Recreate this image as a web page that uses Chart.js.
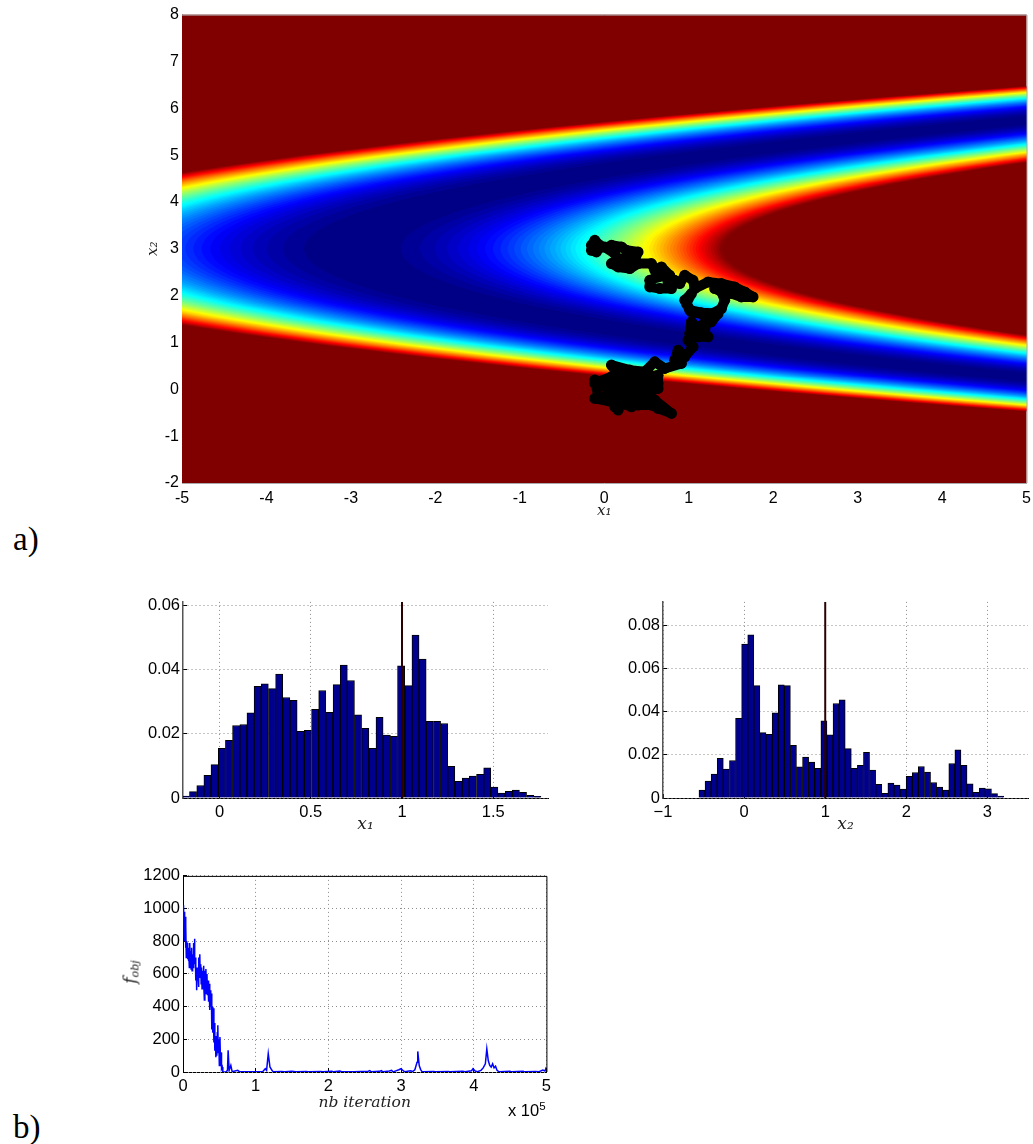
<!DOCTYPE html>
<html><head><meta charset="utf-8">
<script src="https://cdn.jsdelivr.net/npm/chart.js@4"></script>
<style>
html,body{margin:0;padding:0;background:#fff;width:1033px;height:1144px;overflow:hidden}
canvas{position:absolute;display:block}
.t{position:absolute;white-space:nowrap;color:#000}
.panel{font-family:"Liberation Serif",serif;font-size:33px;line-height:32px}
.mult{font-family:"Liberation Sans",sans-serif;font-size:16.5px;line-height:16px}
.mult sup{font-size:11.5px;line-height:0;vertical-align:6px}
.fobj{font-family:"DejaVu Serif",serif;font-style:italic;font-size:17px;line-height:17px;transform:translate(-50%,-50%) rotate(-90deg);color:#222}
.fobj sub{font-size:11px;line-height:0;vertical-align:-3px}
</style></head><body>
<canvas id="heat" width="897" height="522" style="left:140px;top:2px"></canvas>
<canvas id="h1" width="420" height="251" style="left:140px;top:585px"></canvas>
<canvas id="h2" width="413" height="251" style="left:620px;top:585px"></canvas>
<canvas id="obj" width="440" height="253" style="left:120px;top:859px"></canvas>
<div class="t panel" style="left:13px;top:523px">a)</div>
<div class="t panel" style="left:13px;top:1111px">b)</div>
<div class="t mult" style="left:508px;top:1102px">x 10<sup>5</sup></div>
<div class="t fobj" style="left:130px;top:972px">f<sub>obj</sub></div>
<script>
// ---- panel a: valley of the objective, read row by row
const rowX2 = [-1.5,-1.25,-1,-0.75,-0.5,-0.25,0,0.25,0.5,0.75,1,1.25,1.5,1.75,2,2.25,2.5,2.75,3,3.25,3.5,3.75,4,4.25,4.5,4.75,5,5.25,5.5,5.75,6,6.25,6.5,6.75,7,7.25,7.5];
const valleyX1 = [18.515,16.196,14.01,11.956,10.035,8.246,6.59,5.066,3.675,2.416,1.29,0.296,-0.565,-1.294,-1.89,-2.354,-2.685,-2.884,-2.95,-2.884,-2.685,-2.354,-1.89,-1.294,-0.565,0.296,1.29,2.416,3.675,5.066,6.59,8.246,10.035,11.956,14.01,16.196,18.515];
const levelRoots = [0.125,0.1768,0.2165,0.25,0.2795,0.3062,0.3307,0.3536,0.375,0.3953,0.4146,0.433,0.4507,0.4677,0.4841,0.5,0.5154,0.5303,0.5449,0.559,0.5728,0.5863,0.5995,0.6124,0.625,0.6374,0.6495,0.6614,0.6731,0.6847,0.696,0.7071,0.7181,0.7289,0.7395,0.75,0.7603,0.7706,0.7806,0.7906,0.8004,0.8101,0.8197,0.829,0.8385,0.8478,0.857,0.866,0.875,0.8839,0.8927,0.9014,0.91,0.9186,0.927,0.9354,0.9437,0.952,0.9601,0.9682,0.9763,0.9843,0.9922,1];
const outerReach = 4.85;
const innerReach = 4.35;
const pathX1 = [-0.152,-0.112,-0.053,-0.093,-0.152,0.006,0.124,0.085,0.203,0.262,0.4,0.341,0.243,0.302,0.164,0.085,0.164,0.302,0.4,0.558,0.598,0.677,0.775,0.637,0.539,0.539,0.657,0.795,0.755,0.834,0.894,0.953,1.051,1.071,1.229,1.387,1.544,1.663,1.761,1.623,1.505,1.308,1.387,1.426,1.387,1.229,1.032,0.953,1.032,0.973,1.012,1.15,1.347,1.268,1.229,1.111,1.032,1.012,1.189,1.209,1.15,1.229,1.111,1.071,0.992,1.051,0.953,0.874,0.834,0.913,0.716,0.598,0.479,0.302,0.085,0.164,0.045,-0.112,0.085,0.282,0.479,0.637,0.637,0.44,0.243,0.045,-0.112,-0.073,-0.112,0.085,0.124,0.124,0.164,0.183,0.322,0.282,0.479,0.4,0.558,0.637,0.795,0.598,0.44,0.637,0.44,0.243,0.045,0.322,0.519,0.36,0.2,0.05,0.2,0.36];
const pathX2 = [3.075,3.181,3.075,2.932,2.968,3.039,2.897,3.075,3.039,2.968,2.932,2.684,2.684,2.826,2.79,2.684,2.613,2.577,2.684,2.684,2.541,2.613,2.435,2.399,2.328,2.186,2.151,2.151,2.293,2.328,2.257,2.435,2.328,2.151,2.293,2.257,2.186,2.08,1.973,1.973,2.044,2.151,2.08,1.902,1.724,1.574,1.653,1.902,2.044,1.831,1.689,1.635,1.618,1.44,1.511,1.298,1.44,1.191,1.227,1.405,1.227,1.121,1.121,1.192,1.05,0.907,0.694,0.836,0.623,0.552,0.445,0.588,0.374,0.41,0.517,0.303,0.161,0.126,0.268,0.232,0.268,0.303,0.019,-0.052,0.033,0.019,0.197,-0.123,-0.194,-0.265,-0.123,-0.372,-0.443,-0.294,-0.372,-0.23,-0.23,-0.336,-0.336,-0.407,-0.514,-0.23,0.055,0.126,0.268,0.055,-0.088,-0.159,-0.088,0.12,0.12,-0.2,-0.25,-0.02];
const heatXTicks = [-5,-4,-3,-2,-1,0,1,2,3,4,5];
const heatXLabels = ['-5','-4','-3','-2','-1','0','1','2','3','4','5'];
const heatYTicks = [-2,-1,0,1,2,3,4,5,6,7,8];
const heatYLabels = ['-2','-1','0','1','2','3','4','5','6','7','8'];

// ---- panel b: histogram of x1
const h1Centers = [-0.184,-0.145,-0.105,-0.066,-0.027,0.013,0.052,0.091,0.131,0.17,0.209,0.248,0.288,0.327,0.366,0.406,0.445,0.484,0.524,0.563,0.602,0.642,0.681,0.72,0.759,0.799,0.838,0.877,0.917,0.956,0.995,1.035,1.074,1.113,1.152,1.192,1.231,1.27,1.31,1.349,1.388,1.428,1.467,1.506,1.545,1.585,1.624,1.663,1.703,1.742];
const h1Values = [0.0006,0.002,0.0039,0.0071,0.0104,0.0155,0.018,0.0226,0.0229,0.0265,0.0348,0.0356,0.0341,0.0386,0.0313,0.0304,0.0208,0.0211,0.0276,0.0335,0.0267,0.0353,0.0414,0.0366,0.0259,0.0217,0.0155,0.0251,0.0196,0.0192,0.0412,0.035,0.0508,0.0433,0.0239,0.0239,0.0232,0.0099,0.0052,0.0062,0.0068,0.0074,0.0094,0.0034,0.0015,0.0021,0.0025,0.0018,0.0008,0.0005];
const h1XTicks = [0,0.5,1,1.5];
const h1XLabels = ['0','0.5','1','1.5'];
const h1YTicks = [0,0.02,0.04,0.06];
const h1YLabels = ['0','0.02','0.04','0.06'];

// ---- panel b: histogram of x2
const h2Centers = [-0.519,-0.444,-0.369,-0.294,-0.219,-0.143,-0.068,0.007,0.082,0.157,0.232,0.307,0.383,0.458,0.533,0.608,0.683,0.758,0.833,0.908,0.984,1.059,1.134,1.209,1.284,1.359,1.434,1.509,1.584,1.66,1.735,1.81,1.885,1.96,2.035,2.11,2.185,2.261,2.336,2.411,2.486,2.561,2.636,2.711,2.786,2.862,2.937,3.012,3.087,3.163];
const h2Values = [0.0037,0.0078,0.0111,0.0184,0.0134,0.0174,0.0369,0.0713,0.0756,0.0521,0.0303,0.0295,0.0395,0.0525,0.0521,0.0244,0.0144,0.019,0.0166,0.0138,0.0358,0.0293,0.0438,0.0455,0.0229,0.0137,0.0152,0.0212,0.0129,0.0063,0.0022,0.0069,0.006,0.0041,0.0101,0.0118,0.0146,0.012,0.0072,0.0051,0.0037,0.016,0.0223,0.0152,0.0066,0.0026,0.0046,0.0043,0.002,0.0009];
const h2XTicks = [-1,0,1,2,3];
const h2XLabels = ['\u22121','0','1','2','3'];
const h2YTicks = [0,0.02,0.04,0.06,0.08];
const h2YLabels = ['0','0.02','0.04','0.06','0.08'];

// ---- panel b: objective against iteration
const objIter = [0,500,1000,1500,2000,2500,3000,3500,4000,4500,5000,5500,6000,6500,7000,7500,8000,8700,9300,10000,10600,11200,11900,12500,13200,13800,14600,15200,15700,16400,17000,17600,18300,18800,19500,20100,20700,21300,21900,22500,23100,23700,24400,25000,25600,26200,27000,27600,28200,28800,29400,30100,30700,31500,32200,33000,33600,34400,35200,36000,36800,37500,38200,39000,39600,40300,41000,41800,42500,43200,43800,44500,45200,45900,46500,47200,47900,48500,49200,50000,50800,51600,52300,53000,54000,54800,59400,61200,62100,63500,65800,67600,75300,77600,109600,113200,115000,117300,119600,122400,124000,135000,140000,150000,155000,170000,172000,190000,192000,205000,207000,216000,219000,235000,255000,257000,259000,270000,273000,275000,284000,287000,289000,297000,300000,303000,305000,313000,316000,319000,322000,323000,325000,327000,329000,345000,347000,365000,367000,385000,388000,397000,399000,402000,405000,410000,413000,416000,418000,420000,422000,424000,426000,428000,430000,432000,435000,450000,452000,468000,470000,485000,490000,495000,498000,500000];
const objValue = [1020,900,1010,830,980,800,950,760,900,700,800,720,790,690,760,680,750,640,790,660,740,630,760,620,720,640,790,700,816,660,700,560,640,500,640,560,620,520,700,600,720,580,660,540,640,510,620,520,650,540,440,620,500,630,480,600,470,560,430,540,380,500,400,480,260,400,240,390,180,300,130,220,90,200,100,240,286,120,200,40,214,70,120,20,30,0,2,10,133,10,41,2,10,2,2,20,10,112,31,10,2,3,1,4,1,3,1,3,1,5,1,6,1,2,5,9,1,4,8,1,6,10,1,14,20,8,1,8,3,14,60,126,40,15,1,3,1,3,1,4,1,8,20,6,2,10,25,50,142,70,40,30,50,25,35,10,1,4,1,4,1,3,2,12,6,30];
const objXTicks = [0,100000,200000,300000,400000,500000];
const objXLabels = ['0','1','2','3','4','5'];
const objYTicks = [0,200,400,600,800,1000,1200];
const objYLabels = ['0','200','400','600','800','1000','1200'];

const targetValue = [1];
const sans = '"Liberation Sans", Arial, sans-serif';
const serif = '"DejaVu Serif", "Liberation Serif", serif';
Chart.defaults.animation = false;
Chart.defaults.devicePixelRatio = 1;
Chart.defaults.plugins.legend.display = false;
Chart.defaults.plugins.tooltip.enabled = false;
Chart.defaults.responsive = false;

function jet(t){
  const c = v => Math.round(255*Math.max(0,Math.min(1,v)));
  return `rgb(${c(1.5-Math.abs(4*t-3))},${c(1.5-Math.abs(4*t-2))},${c(1.5-Math.abs(4*t-1))})`;
}
const framePlugin = {
  id:'frame',
  beforeDatasetsDraw(ch,a,o){
    if(o.fill){const r=ch.chartArea;ch.ctx.save();ch.ctx.fillStyle=o.fill;ch.ctx.fillRect(r.left,r.top,r.right-r.left,r.bottom-r.top);ch.ctx.restore();}
  },
  afterDraw(ch,a,o){
    if(!o.color)return;
    const r=ch.chartArea,c=ch.ctx;c.save();c.strokeStyle=o.color;c.lineWidth=1;c.beginPath();
    c.moveTo(r.left,r.top+.5);c.lineTo(r.right+.5,r.top+.5);c.lineTo(r.right+.5,r.bottom);c.stroke();c.restore();
  }
};
function axis(o){
  return {
    type:'linear',min:o.min,max:o.max,position:o.position,offset:false,
    afterBuildTicks:s=>{s.ticks=o.ticks.map(v=>({value:v}));},
    afterFit:s=>{if(o.width!==undefined)s.width=o.width;if(o.height!==undefined)s.height=o.height;},
    ticks:{autoSkip:false,maxRotation:0,minRotation:0,padding:o.pad,color:'#000',
      font:{family:sans,size:o.fontSize||16.5},callback:(v,i)=>o.labels[i]},
    grid:o.grid===false?{display:false,drawTicks:false}:
      {offset:false,color:'#8c8c8c',lineWidth:1,tickLength:-4,tickColor:'#000',tickBorderDash:[],tickWidth:1,z:0},
    border:{color:o.borderColor||'#000',width:o.borderWidth||1,dash:[1,3]},
    title:o.title?{display:true,text:o.title,color:'#222',
      font:{family:serif,style:'italic',size:o.titleSize||15},padding:o.titlePad||{top:0,bottom:0}}:{display:false}
  };
}

// panel a
const heatSets = [];
heatSets.push({data:pathX1.map((x,i)=>({x,y:pathX2[i]})),showLine:true,borderColor:'#000',backgroundColor:'#000',
  borderWidth:10,borderJoinStyle:'round',borderCapStyle:'round',pointRadius:5.5,pointBorderWidth:0,tension:0,order:0,fill:false});
function contour(off,color,order){
  heatSets.push({data:rowX2.map((y,i)=>({x:valleyX1[i]+off,y})),showLine:true,borderWidth:0,pointRadius:0,
    tension:0.3,fill:'shape',backgroundColor:color,borderColor:color,order});
}
let ord = 1000;
for(let k=levelRoots.length-1;k>=0;k--) contour(-outerReach*levelRoots[k],jet((k+0.5)/64),ord--);
for(let k=0;k<levelRoots.length;k++) contour(innerReach*levelRoots[k],jet(Math.min(1,(k+1.5)/64)),ord--);
new Chart(document.getElementById('heat'),{type:'scatter',data:{datasets:heatSets},plugins:[framePlugin],options:{
  layout:{padding:{top:10,right:6,left:0,bottom:0}},
  plugins:{frame:{fill:jet(1),color:'#aaa'}},
  scales:{
    x:axis({min:-5,max:5,position:'bottom',ticks:heatXTicks,labels:heatXLabels,height:41,pad:6,grid:false,borderColor:'#aaa',fontSize:16,
      title:'x\u2081',titleSize:15,titlePad:{top:0,bottom:4}}),
    y:axis({min:-2,max:8,position:'left',ticks:heatYTicks,labels:heatYLabels,width:42,pad:3,grid:false,borderColor:'#aaa',fontSize:16,
      title:'x\u2082',titleSize:15,titlePad:{top:4,bottom:0}})
  }
}});

function hist(id,centers,values,xTicks,xLabels,yTicks,yLabels,xMin,xMax,yMax,title,rightPad){
  new Chart(document.getElementById(id),{type:'bar',data:{datasets:[
    {type:'line',data:[{x:targetValue[0],y:0},{x:targetValue[0],y:yMax}],borderColor:'#2a0000',borderWidth:2,pointRadius:0,order:0},
    {type:'bar',data:centers.map((x,i)=>({x,y:values[i]})),backgroundColor:'#00008f',borderColor:'#000',borderWidth:1,
     barPercentage:1,categoryPercentage:1,order:1}
  ]},options:{
    layout:{padding:{top:10,right:rightPad,left:0,bottom:0}},
    scales:{
      x:axis({min:xMin,max:xMax,position:'bottom',ticks:xTicks,labels:xLabels,height:38,pad:9,title,titleSize:17,titlePad:{top:0,bottom:1}}),
      y:axis({min:0,max:yMax,position:'left',ticks:yTicks,labels:yLabels,width:43,pad:7,borderColor:'#555',borderWidth:1.5})
    }
  }});
}
hist('h1',h1Centers,h1Values,h1XTicks,h1XLabels,h1YTicks,h1YLabels,-0.2,1.8,0.0611,'x\u2081',12);
hist('h2',h2Centers,h2Values,h2XTicks,h2XLabels,h2YTicks,h2YLabels,-1,3.5,0.0909,'x\u2082',5);

new Chart(document.getElementById('obj'),{type:'scatter',data:{datasets:[
  {data:objIter.map((x,i)=>({x,y:objValue[i]})),showLine:true,borderColor:'#0000ff',borderWidth:1.5,pointRadius:0,tension:0}
]},plugins:[framePlugin],options:{
  layout:{padding:{top:10,right:12,left:0,bottom:0}},
  plugins:{frame:{color:'#000'}},
  scales:{
    x:axis({min:0,max:500000,position:'bottom',ticks:objXTicks,labels:objXLabels,height:40,pad:9,
      title:'nb iteration',titleSize:15.5,titlePad:{top:0,bottom:0}}),
    y:axis({min:0,max:1200,position:'left',ticks:objYTicks,labels:objYLabels,width:63,pad:7})
  }
}});
</script>
</body></html>
